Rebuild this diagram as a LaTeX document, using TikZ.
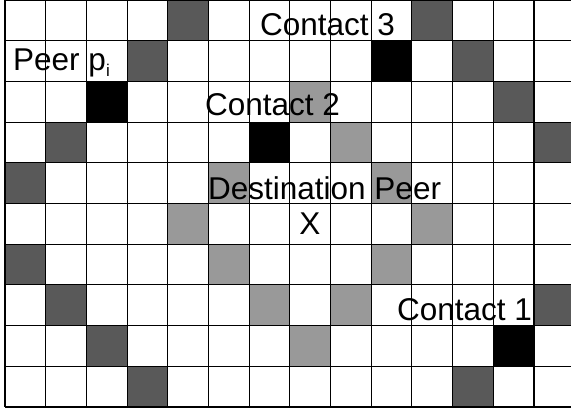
\documentclass[tikz,border=0pt]{standalone}
\usepackage{fontspec}
\setmainfont{Liberation Sans}
\definecolor{darkc}{RGB}{89,89,89}
\definecolor{lightc}{RGB}{153,153,153}
\begin{document}
\begin{tikzpicture}[x=1pt,y=-1pt,
  gridline/.style={draw=black,line width=1.1pt},
  lbl/.style={inner sep=0pt,anchor=base west,font=\fontsize{31.5}{38}\selectfont}]
\useasboundingbox (0,0) rectangle (571,411);
\fill[white] (0,0) rectangle (571,411);
\clip (0,0) rectangle (571,411);
\begin{scope}[shift={(5pt,0pt)},x=40.69pt,y=-40.7pt]
  \foreach \c/\r in {4/0,10/0,3/1,11/1,12/2,1/3,13/3,0/4,0/6,1/7,13/7,2/8,3/9,11/9}
    \fill[darkc] (\c,\r) rectangle ++(1,1);
  \foreach \c/\r in {7/2,8/3,5/4,9/4,4/5,10/5,5/6,9/6,6/7,8/7,7/8}
    \fill[lightc] (\c,\r) rectangle ++(1,1);
  \foreach \c/\r in {9/1,2/2,6/3,12/8}
    \fill[black] (\c,\r) rectangle ++(1,1);
  \foreach \k in {0,...,13}
    \draw[gridline] (\k,0) -- (\k,10);
  \foreach \k in {0,...,10}
    \draw[gridline] (0,\k) -- (14,\k);
\end{scope}
\node[lbl] (peer) at (13,71) {Peer p\raisebox{-6pt}{\fontsize{17}{20}\selectfont i}};
\node[lbl] (c3) at (260,36) {Contact 3};
\node[lbl] (c2) at (205,116) {Contact 2};
\node[lbl] (dest) at (208,200) {Destination Peer};
\node[lbl,anchor=base] (x) at (310,235) {X};
\node[lbl] (c1) at (397,321) {Contact 1};
\end{tikzpicture}
\end{document}
